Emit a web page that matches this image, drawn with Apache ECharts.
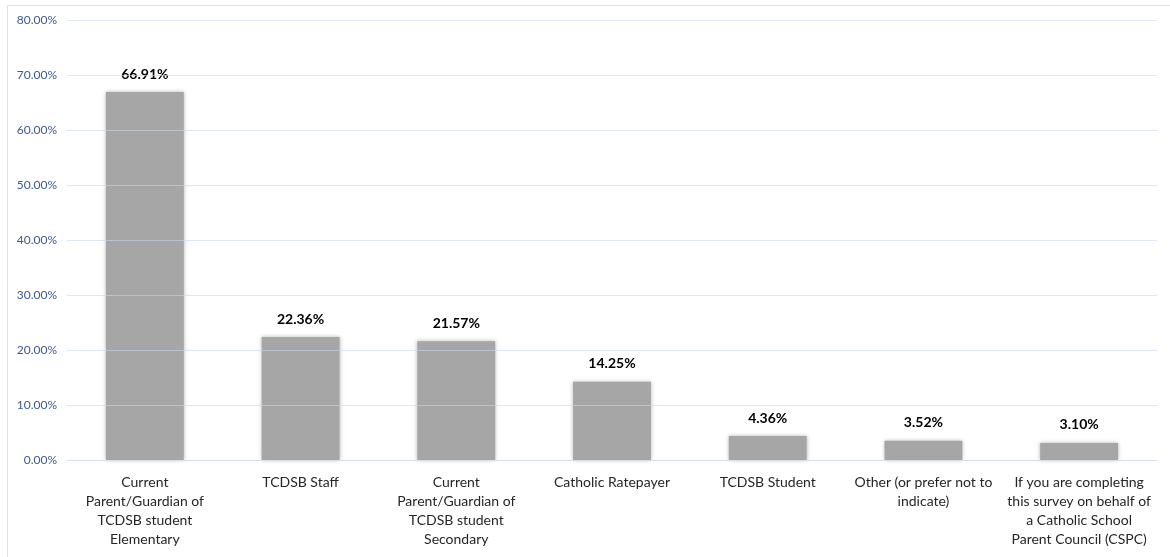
<!DOCTYPE html>
<html>
<head>
<meta charset="utf-8">
<script src="https://cdn.jsdelivr.net/npm/echarts@6/dist/echarts.min.js"></script>
<style>
  html, body { margin: 0; padding: 0; background: #fff; }
  #main { width: 1170px; height: 557px; }
</style>
</head>
<body>
<div id="main"></div>
<script>
  const categories = [
    'Current\nParent/Guardian of\nTCDSB student\nElementary',
    'TCDSB Staff',
    'Current\nParent/Guardian of\nTCDSB student\nSecondary',
    'Catholic Ratepayer',
    'TCDSB Student',
    'Other (or prefer not to\nindicate)',
    'If you are completing\nthis survey on behalf of\na Catholic School\nParent Council (CSPC)'
  ];
  const percentages = [66.91, 22.36, 21.57, 14.25, 4.36, 3.52, 3.10];
  const yTicks = [0, 10, 20, 30, 40, 50, 60, 70, 80];

  const chart = echarts.init(document.getElementById('main'));
  chart.setOption({
    animation: false,
    textStyle: { fontFamily: 'Lato' },
    graphic: [{
      type: 'rect',
      shape: { x: 7.5, y: 5.5, width: 1200, height: 600 },
      style: { fill: 'none', stroke: '#d9e1ef', lineWidth: 1 }
    }],
    grid: { left: 67, right: 13, top: 20, bottom: 97, containLabel: false },
    xAxis: {
      type: 'category',
      data: categories,
      z: 3,
      axisLine: { lineStyle: { color: '#d5dfee', width: 1 } },
      axisTick: { show: false },
      axisLabel: {
        interval: 0,
        color: '#262626',
        fontSize: 14,
        lineHeight: 19,
        margin: 13
      }
    },
    yAxis: {
      type: 'value',
      min: yTicks[0],
      max: yTicks[yTicks.length - 1],
      interval: 10,
      z: 3,
      axisLine: { show: false },
      axisTick: { show: false },
      splitLine: { lineStyle: { color: 'rgba(200,215,238,0.6)', width: 1 } },
      axisLabel: {
        color: '#3a5b93',
        fontSize: 12,
        margin: 10,
        formatter: v => v.toFixed(2) + '%'
      }
    },
    series: [{
      type: 'bar',
      data: percentages,
      barWidth: '50%',
      itemStyle: {
        color: '#a6a6a6',
        shadowBlur: 4,
        shadowColor: 'rgba(150,150,150,0.7)'
      },
      label: {
        show: true,
        position: 'top',
        distance: 11,
        color: '#000',
        fontWeight: 'bold',
        fontSize: 14,
        formatter: p => p.value.toFixed(2) + '%'
      }
    }]
  });
</script>
</body>
</html>
